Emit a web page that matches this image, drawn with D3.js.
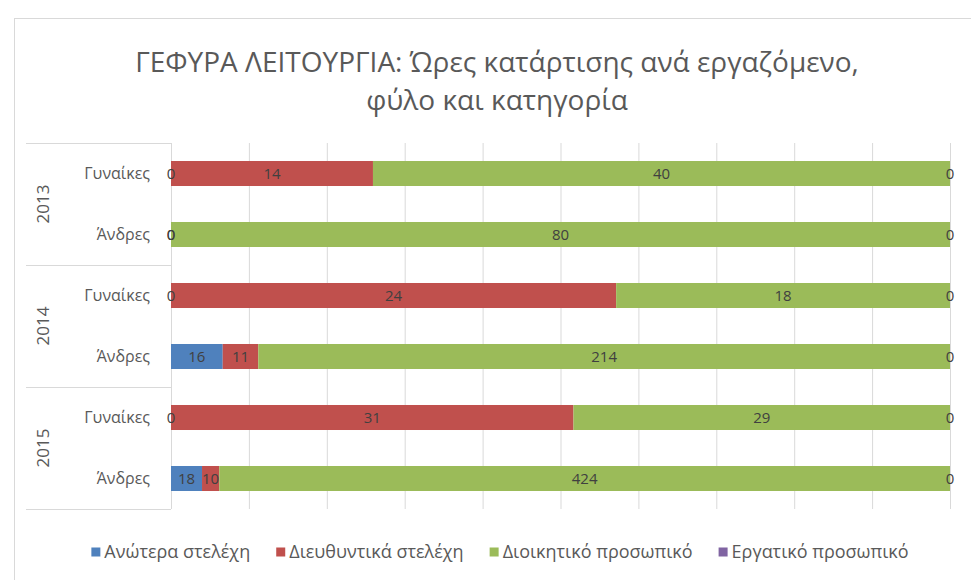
<!DOCTYPE html>
<html>
<head>
<meta charset="utf-8">
<script src="https://cdn.jsdelivr.net/npm/d3@7"></script>
<style>
body { margin: 0; background: #fff; }
text { font-family: "Open Sans", "Noto Sans", sans-serif; }
</style>
</head>
<body>
<script>
// Data
var years = ["2013", "2014", "2015"];
var genders = ["Γυναίκες", "Άνδρες"];
var seriesNames = ["Ανώτερα στελέχη", "Διευθυντικά στελέχη", "Διοικητικό προσωπικό", "Εργατικό προσωπικό"];
// one value per row: 2013 Γ, 2013 Α, 2014 Γ, 2014 Α, 2015 Γ, 2015 Α
var anotera      = [0, 0, 0, 16, 0, 18];
var dieuthyntika = [14, 0, 24, 11, 31, 10];
var dioikitiko   = [40, 80, 18, 214, 29, 424];
var ergatiko     = [0, 0, 0, 0, 0, 0];
var colors = ["#4f81bd", "#c0504d", "#9bbb59", "#8064a2"];

var WIDTH = 971, HEIGHT = 580;
var MARGINS = { top: 143, right: 21, bottom: 71, left: 171 };

var rows = [];
years.forEach(function (y, i) {
    genders.forEach(function (g, j) {
        var k = i * 2 + j;
        rows.push({ id: y + "_" + g, year: y, gender: g,
            values: [anotera[k], dieuthyntika[k], dioikitiko[k], ergatiko[k]] });
    });
});

var svg = d3.select("body").append("svg")
    .attr("width", WIDTH)
    .attr("height", HEIGHT);

// Chart border
svg.append("rect")
    .attr("x", 14.5).attr("y", 18.5)
    .attr("width", WIDTH + 10).attr("height", HEIGHT)
    .attr("fill", "none")
    .attr("stroke", "#d9d9d9");

// Title
var title = svg.append("text")
    .attr("text-anchor", "middle")
    .attr("fill", "#595959")
    .attr("font-size", "28px");
title.append("tspan").attr("x", 497).attr("y", 72)
    .text("ΓΕΦΥΡΑ ΛΕΙΤΟΥΡΓΙΑ: Ώρες κατάρτισης ανά εργαζόμενο,");
title.append("tspan").attr("x", 497).attr("y", 110)
    .text("φύλο και κατηγορία");

var xScale = d3.scaleLinear().domain([0, 1]).range([MARGINS.left, WIDTH - MARGINS.right]);
var yScale = d3.scaleBand().domain(rows.map(function (d) { return d.id; }))
    .range([MARGINS.top, HEIGHT - MARGINS.bottom])
    .paddingInner(0.59).paddingOuter(0.295);

// Vertical gridlines
svg.append("g")
    .selectAll("line")
    .data(d3.range(0, 1.0001, 0.1))
    .enter().append("line")
    .attr("x1", function (d) { return xScale(d) + 0.5; })
    .attr("x2", function (d) { return xScale(d) + 0.5; })
    .attr("y1", MARGINS.top)
    .attr("y2", HEIGHT - MARGINS.bottom)
    .attr("stroke", "#d9d9d9");

// Group separators on the category axis
var groupH = (HEIGHT - MARGINS.bottom - MARGINS.top) / years.length;
svg.append("g")
    .selectAll("line")
    .data(d3.range(years.length + 1))
    .enter().append("line")
    .attr("x1", 26).attr("x2", MARGINS.left)
    .attr("y1", function (d) { return MARGINS.top + d * groupH + 0.5; })
    .attr("y2", function (d) { return MARGINS.top + d * groupH + 0.5; })
    .attr("stroke", "#d9d9d9");

// Stack the rows as percentage
var stacked = rows.map(function (r) {
    var total = d3.sum(r.values), acc = 0;
    return r.values.map(function (v, i) {
        var seg = { row: r, i: i, v: v, x0: acc / total, x1: (acc + v) / total };
        acc += v;
        return seg;
    });
});

var segs = [].concat.apply([], stacked);

svg.append("g")
    .selectAll("rect")
    .data(segs)
    .enter().append("rect")
    .attr("x", function (d) { return xScale(d.x0); })
    .attr("width", function (d) { return xScale(d.x1) - xScale(d.x0); })
    .attr("y", function (d) { return yScale(d.row.id); })
    .attr("height", yScale.bandwidth())
    .attr("fill", function (d) { return colors[d.i]; });

// Data labels
svg.append("g")
    .selectAll("text")
    .data(segs)
    .enter().append("text")
    .attr("x", function (d) { return xScale((d.x0 + d.x1) / 2); })
    .attr("y", function (d) { return yScale(d.row.id) + yScale.bandwidth() / 2; })
    .attr("dy", "0.35em")
    .attr("text-anchor", "middle")
    .attr("font-size", "15px")
    .attr("fill", "#404040")
    .text(function (d) { return d.v; });

// Category labels
svg.append("g")
    .selectAll("text")
    .data(rows)
    .enter().append("text")
    .attr("x", 150)
    .attr("y", function (d) { return yScale(d.id) + yScale.bandwidth() / 2; })
    .attr("dy", "0.35em")
    .attr("text-anchor", "end")
    .attr("font-size", "16px")
    .attr("fill", "#595959")
    .text(function (d) { return d.gender; });

// Year labels, rotated
svg.append("g")
    .selectAll("text")
    .data(years)
    .enter().append("text")
    .attr("transform", function (d, i) {
        return "translate(43," + (MARGINS.top + (i + 0.5) * groupH) + ") rotate(-90)";
    })
    .attr("dy", "0.35em")
    .attr("text-anchor", "middle")
    .attr("font-size", "17px")
    .attr("fill", "#595959")
    .text(function (d) { return d; });

// Legend: lay items out by measured text width, centred
var legend = svg.append("g")
    .selectAll("g")
    .data(seriesNames)
    .enter().append("g");
legend.append("rect")
    .attr("x", 0).attr("y", -4.5)
    .attr("width", 9).attr("height", 9)
    .attr("fill", function (d, i) { return colors[i]; });
legend.append("text")
    .attr("x", 13)
    .attr("dy", "0.35em")
    .attr("font-size", "18px")
    .attr("fill", "#595959")
    .text(function (d) { return d; });

var itemW = [], gap = 26;
legend.each(function () {
    itemW.push(13 + d3.select(this).select("text").node().getComputedTextLength());
});
var totalW = d3.sum(itemW) + gap * (itemW.length - 1);
var lx = 500 - totalW / 2;
legend.attr("transform", function (d, i) {
    var x = lx;
    lx += itemW[i] + gap;
    return "translate(" + x + ",552)";
});
</script>
</body>
</html>
